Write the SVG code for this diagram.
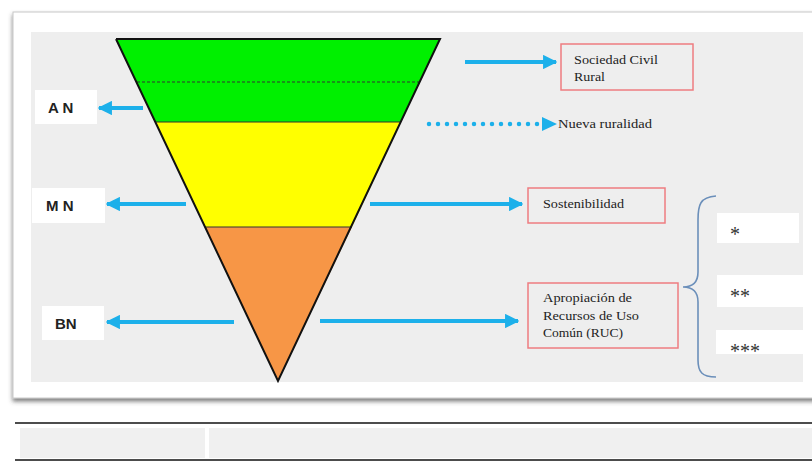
<svg xmlns="http://www.w3.org/2000/svg" width="812" height="461" viewBox="0 0 812 461">
<defs>
<filter id="sh" x="-5%" y="-5%" width="110%" height="115%">
<feDropShadow dx="0" dy="3" stdDeviation="2" flood-color="#444" flood-opacity="0.7"/>
</filter>
<marker id="ah" viewBox="0 0 10 10" refX="9" refY="5" markerWidth="3.6" markerHeight="3.6" orient="auto" markerUnits="strokeWidth">
<path d="M0,0 L10,5 L0,10 Z" fill="#1cb0ea"/>
</marker>
</defs>
<style>
.arr{stroke:#1cb0ea;stroke-width:4;fill:none;marker-end:url(#ah)}
.lbl{fill:#fff}
.lt{font-weight:bold;font-size:15px;fill:#222}
.bx{fill:none;stroke:#ee7c80;stroke-width:1.5}
.st{font-size:13px;fill:#222}
.ast{font-size:20px;fill:#333}
</style>
<rect width="812" height="461" fill="#fff"/>
<rect x="13" y="12" width="810" height="386" fill="#fff" stroke="#c8c8c8" stroke-width="1" filter="url(#sh)"/>
<rect x="31" y="32" width="772" height="350" fill="#eeeeee"/>
<g id="funnel">
<polygon points="116,39 440,39 401,122 155,122" fill="#00f000"/>
<polygon points="155,122 401,122 352,227 205,227" fill="#ffff00"/>
<polygon points="205,227 352,227 278,381" fill="#f79646"/>
<line x1="137" y1="82" x2="420" y2="82" stroke="#333" stroke-width="1" stroke-dasharray="3,2"/>
<line x1="155" y1="122" x2="401" y2="122" stroke="#333" stroke-width="1.2"/>
<line x1="205" y1="227" x2="352" y2="227" stroke="#333" stroke-width="1.2"/>
<polyline points="116,39 278,381 440,39 116,39" fill="none" stroke="#111" stroke-width="2" stroke-linejoin="miter"/>
</g>
<g id="connectors">
<line class="arr" x1="143" y1="108" x2="99" y2="108"/>
<line class="arr" x1="186" y1="204" x2="107" y2="204"/>
<line class="arr" x1="234" y1="322" x2="107" y2="322"/>
<line class="arr" x1="465" y1="62" x2="556" y2="62"/>
<line x1="429" y1="124" x2="540" y2="124" stroke="#1cb0ea" stroke-width="4.5" stroke-linecap="round" stroke-dasharray="0,9"/>
<path d="M542,117 L557,124 L542,131 Z" fill="#1cb0ea"/>
<line class="arr" x1="370" y1="204" x2="522" y2="204"/>
<line class="arr" x1="320" y1="321" x2="518" y2="321"/>
</g>
<g font-family="'Liberation Sans', Arial, sans-serif">
<g id="an"><rect class="lbl" x="35" y="90" width="62" height="34"/><text class="lt" x="48" y="113">A N</text></g>
<g id="mn"><rect class="lbl" x="32" y="188" width="73" height="35"/><text class="lt" x="46" y="211">M N</text></g>
<g id="bn"><rect class="lbl" x="42" y="306" width="62" height="34"/><text class="lt" x="55" y="329">BN</text></g>
</g>
<g font-family="'Liberation Serif', 'Times New Roman', serif">
<g id="sociedad"><rect class="bx" x="561" y="44" width="132" height="46"/><text class="st" x="574" y="64" textLength="84" lengthAdjust="spacingAndGlyphs">Sociedad Civil</text><text class="st" x="574" y="81" textLength="31" lengthAdjust="spacingAndGlyphs">Rural</text></g>
<g id="nueva"><text class="st" x="558" y="128" textLength="94" lengthAdjust="spacingAndGlyphs">Nueva ruralidad</text></g>
<g id="sosten"><rect class="bx" x="528" y="188" width="137" height="35"/><text class="st" x="543" y="208" textLength="81" lengthAdjust="spacingAndGlyphs">Sostenibilidad</text></g>
<g id="ruc"><rect class="bx" x="528" y="283" width="150" height="65"/><text class="st" x="543" y="302" textLength="89" lengthAdjust="spacingAndGlyphs">Apropiación de</text><text class="st" x="543" y="320" textLength="96" lengthAdjust="spacingAndGlyphs">Recursos de Uso</text><text class="st" x="543" y="337" textLength="80" lengthAdjust="spacingAndGlyphs">Común (RUC)</text></g>
<g id="s1"><rect class="lbl" x="717" y="213" width="82" height="30"/><text class="ast" x="730" y="241">*</text></g>
<g id="s2"><rect class="lbl" x="717" y="275" width="95" height="32"/><text class="ast" x="730" y="303">**</text></g>
<g id="s3"><rect class="lbl" x="716" y="330" width="96" height="24"/><text class="ast" x="730" y="358">***</text></g>
</g>
<g id="brace"><path d="M716,196 C700,197 698,205 698,220 L698,272 C698,283 692,287 683,287 C692,287 698,291 698,302 L698,360 C698,372 702,377 716,377" fill="none" stroke="#6b8fba" stroke-width="1.6"/></g>
<g id="table">
<rect x="20" y="428" width="185" height="30" fill="#f0f0f0"/>
<rect x="209" y="428" width="603" height="30" fill="#f0f0f0"/>
<line x1="15" y1="423" x2="812" y2="423" stroke="#111" stroke-width="1.5"/>
<line x1="15" y1="460" x2="812" y2="460" stroke="#111" stroke-width="1.5"/>
</g>
</svg>
